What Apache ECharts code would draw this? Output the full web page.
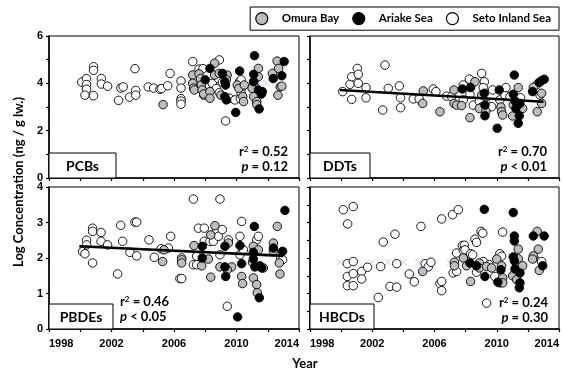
<!DOCTYPE html>
<html>
<head>
<meta charset="utf-8">
<script src="https://cdn.jsdelivr.net/npm/echarts@6/dist/echarts.min.js"></script>
<style>
html,body{margin:0;padding:0;background:#fff;}
#chart{width:564px;height:371px;}
</style>
</head>
<body>
<div id="chart"></div>
<script>
// ---------- data ----------
const seriesNames = ['Omura Bay', 'Ariake Sea', 'Seto Inland Sea'];
const panelNames = ['PCBs', 'DDTs', 'PBDEs', 'HBCDs'];
const r2Values = ['0.52', '0.70', '0.46', '0.24'];
const pValues = ['= 0.12', '< 0.01', '< 0.05', '= 0.30'];
const xTicks = [1998, 2002, 2006, 2010, 2014];

const pcbSeto = [[2000.1,4.05],[2000.4,4.2],[2000.4,3.95],[2000.4,3.75],[2000.3,3.5],[2000.85,4.7],[2000.85,4.55],[2000.85,3.48],[2001.35,4.2],[2001.35,3.97],[2001.75,3.88],[2002.45,3.28],[2002.6,3.8],[2002.75,3.85],[2003.15,3.42],[2003.5,4.62],[2003.55,3.7],[2003.55,3.5],[2004.35,3.85],[2004.7,3.8],[2005.1,3.75],[2005.2,3.78],[2005.6,3.9],[2005.75,4.42],[2006.45,4.1],[2006.45,3.8],[2006.45,3.35],[2006.45,3.25],[2006.45,3.12],[2007.2,4.92],[2007.3,4.1],[2007.6,4.6],[2007.65,3.78],[2007.9,3.5],[2007.85,4.62],[2008.2,3.95],[2008.45,4.0],[2008.9,4.99],[2008.85,4.2],[2008.7,3.78],[2008.9,3.6],[2009.1,4.05],[2009.3,2.41],[2009.55,3.37],[2009.9,3.3],[2010.2,4.07],[2010.3,4.15],[2010.3,3.78],[2010.3,3.57],[2010.25,3.35],[2011.2,3.85],[2011.4,3.65]];
const pcbOmura = [[2005.3,3.1],[2007.2,4.35],[2007.2,4.0],[2007.25,3.8],[2007.3,3.72],[2007.6,4.4],[2007.7,4.2],[2007.75,3.93],[2007.8,3.72],[2007.9,3.55],[2008.3,3.65],[2008.3,3.37],[2008.6,4.35],[2008.6,4.85],[2008.9,4.42],[2009.0,3.5],[2009.4,4.35],[2009.35,4.15],[2010.05,3.93],[2010.15,3.79],[2010.4,3.44],[2010.45,3.23],[2010.5,3.93],[2011.1,4.07],[2011.0,3.79],[2011.1,3.44],[2011.3,3.23],[2011.3,3.1],[2011.4,4.63],[2011.4,4.28],[2012.3,4.42],[2012.6,4.94],[2012.7,4.63],[2012.8,3.85],[2012.65,3.5],[2012.9,3.88]];
const pcbAriake = [[2008.0,4.15],[2008.3,4.63],[2009.1,4.42],[2009.25,4.07],[2009.3,3.93],[2009.25,3.44],[2009.35,3.3],[2009.95,2.77],[2010.2,4.52],[2011.15,5.17],[2011.1,4.38],[2011.1,4.07],[2011.4,3.72],[2011.6,3.55],[2011.45,2.92],[2011.65,3.65],[2012.35,4.2],[2013.05,4.92],[2012.9,4.32]];
const pcbCross = [[2006.9,4.0],[2007.45,4.0],[2011.9,4.0]];

const ddtSeto = [[2000.1,3.65],[2000.57,3.96],[2000.68,4.28],[2000.68,3.32],[2001.04,4.63],[2001.1,4.38],[2001.1,4.0],[2001.6,3.82],[2001.6,3.39],[2002.82,4.77],[2002.67,2.87],[2003.03,3.79],[2003.74,3.89],[2003.82,3.39],[2003.82,2.97],[2004.64,3.34],[2005.02,3.34],[2005.92,3.76],[2006.09,3.65],[2006.78,3.46],[2007.1,3.44],[2007.85,3.93],[2007.85,3.3],[2008.24,4.18],[2008.28,3.54],[2008.49,3.08],[2009.03,4.42],[2009.2,4.07],[2009.13,3.82],[2008.88,3.23],[2009.35,3.11],[2009.03,3.0],[2009.73,3.72],[2009.67,3.01],[2010.2,3.3],[2010.53,3.5],[2010.59,3.82],[2010.85,3.44],[2011.28,3.37],[2011.53,3.39],[2012.78,3.51],[2012.6,3.96]];
const ddtOmura = [[2005.28,3.68],[2005.24,3.15],[2006.35,2.8],[2007.25,3.72],[2007.25,3.15],[2007.42,3.08],[2007.74,3.06],[2008.28,2.55],[2008.6,4.07],[2009.03,3.51],[2008.88,2.94],[2009.3,2.83],[2010.27,3.0],[2010.31,2.8],[2010.38,2.66],[2011.38,3.82],[2011.02,2.62],[2011.06,3.08],[2011.66,2.94],[2012.35,3.83],[2012.6,2.8],[2012.88,3.58],[2012.88,3.15]];
const ddtAriake = [[2007.79,3.76],[2008.32,3.82],[2009.2,3.58],[2009.24,2.63],[2009.24,3.08],[2010.16,3.72],[2010.03,2.1],[2011.13,4.35],[2011.06,3.54],[2011.17,3.25],[2011.23,2.94],[2011.45,2.63],[2011.49,3.15],[2011.38,2.31],[2012.3,3.65],[2012.73,4.04],[2012.88,4.11],[2013.05,4.17]];
const ddtTrend = [[1999.9,3.72],[2013.0,3.22]];

const pbdeSeto = [[2000.15,2.18],[2000.3,2.12],[2000.41,2.5],[2000.41,2.37],[2000.79,2.84],[2000.79,2.75],[2000.79,1.86],[2001.33,2.72],[2001.33,2.47],[2001.75,2.37],[2002.39,1.55],[2002.59,2.92],[2002.71,2.47],[2003.18,2.16],[2003.5,3.01],[2003.61,3.01],[2003.61,2.06],[2004.4,2.51],[2004.74,2.02],[2005.17,2.26],[2005.64,2.28],[2005.79,2.61],[2006.38,1.42],[2006.49,1.42],[2006.49,2.0],[2007.24,3.66],[2007.24,1.81],[2007.45,2.05],[2007.56,2.84],[2007.45,1.81],[2007.94,2.84],[2007.94,2.47],[2008.3,2.47],[2008.52,2.47],[2008.73,2.8],[2008.84,2.61],[2008.94,3.66],[2009.09,2.8],[2008.94,2.09],[2009.48,2.51],[2009.41,0.64],[2010.22,2.61],[2010.33,3.03],[2010.22,2.09],[2010.44,2.23],[2011.29,2.51],[2011.4,2.61],[2012.83,2.0],[2012.95,1.95]];
const pbdeOmura = [[2005.27,1.9],[2005.36,2.23],[2006.49,1.95],[2006.49,1.86],[2007.28,2.35],[2007.77,1.78],[2008.2,1.97],[2008.35,1.46],[2008.35,2.65],[2008.62,2.91],[2008.94,1.75],[2009.48,2.42],[2009.69,1.75],[2009.41,1.67],[2010.33,1.48],[2010.39,1.28],[2011.08,2.33],[2011.03,1.88],[2011.08,1.44],[2011.29,1.25],[2011.33,1.02],[2011.4,2.23],[2011.72,1.72],[2012.36,2.42],[2012.36,2.19],[2012.61,2.89],[2012.74,1.86],[2012.78,1.55]];
const pbdeAriake = [[2007.81,2.33],[2007.81,2.0],[2009.26,2.33],[2009.26,1.75],[2009.31,1.48],[2010.07,0.34],[2010.22,2.35],[2010.33,1.84],[2011.14,2.89],[2011.08,2.16],[2011.08,1.97],[2011.18,1.75],[2011.46,0.88],[2011.5,1.78],[2011.61,1.72],[2012.36,2.28],[2012.95,2.19],[2013.1,3.34]];
const pbdeTrend = [[1999.94,2.33],[2013.0,2.06]];

const hbcdSeto = [[2000.14,3.36],[2000.78,3.45],[2000.42,2.96],[2000.4,1.84],[2000.78,1.9],[2000.4,1.48],[2000.4,1.22],[2000.78,1.22],[2000.78,1.56],[2001.32,1.62],[2001.32,1.41],[2001.7,1.74],[2002.39,0.89],[2002.54,1.76],[2002.71,2.45],[2003.14,1.2],[2003.46,2.67],[2003.57,1.84],[2003.57,1.18],[2004.38,1.55],[2004.7,1.33],[2005.13,2.89],[2005.4,1.84],[2005.6,1.75],[2005.77,1.88],[2006.35,1.28],[2006.46,3.1],[2006.46,1.34],[2006.46,1.08],[2007.16,3.22],[2007.53,3.36],[2007.2,1.58],[2007.42,2.14],[2007.42,1.62],[2007.79,2.35],[2007.92,2.36],[2007.85,2.21],[2007.96,2.23],[2008.17,1.97],[2008.32,2.12],[2008.45,2.09],[2008.6,2.53],[2008.7,2.44],[2008.99,2.75],[2009.1,2.7],[2008.7,1.6],[2009.13,1.9],[2009.35,0.73],[2009.52,1.81],[2009.88,1.48],[2010.2,2.12],[2010.31,2.05],[2010.38,2.73],[2011.28,1.81],[2011.23,1.92],[2012.39,2.0],[2012.88,1.9]];
const hbcdOmura = [[2005.24,1.62],[2007.28,1.88],[2007.28,1.78],[2007.85,2.0],[2008.06,1.78],[2008.32,1.34],[2008.88,1.86],[2008.88,1.72],[2009.35,1.76],[2009.67,1.72],[2010.0,1.97],[2010.2,1.3],[2010.31,1.78],[2010.38,1.44],[2010.38,1.3],[2011.38,2.25],[2011.38,1.98],[2011.02,1.5],[2011.28,1.39],[2011.66,1.78],[2012.6,2.75],[2012.67,2.25],[2012.35,2.06],[2012.3,1.97],[2012.73,1.65]];
const hbcdAriake = [[2008.28,1.86],[2008.7,1.78],[2009.2,3.37],[2009.24,1.48],[2010.07,1.32],[2010.27,1.67],[2011.06,3.28],[2011.13,2.62],[2011.13,2.48],[2011.06,2.03],[2011.13,1.92],[2011.17,1.69],[2011.49,1.58],[2011.49,1.3],[2011.45,1.16],[2012.35,2.62],[2013.05,2.62],[2012.95,1.78]];
const hbcdCross = [[1999.93,1.88],[2000.46,1.88],[2001.96,1.88],[2003.03,1.88],[2004.0,1.88],[2004.96,1.88],[2005.45,1.88],[2006.99,1.88],[2007.4,1.88],[2011.9,1.88],[2012.75,1.88]];

// ---------- layout / style ----------
const grids = [
  {left: 49, top: 36, width: 250, height: 142},
  {left: 310, top: 36, width: 249, height: 142},
  {left: 49, top: 187, width: 250, height: 142},
  {left: 310, top: 187, width: 249, height: 142}
];
const fills = {'Omura Bay': '#bdbdbd', 'Ariake Sea': '#000000', 'Seto Inland Sea': '#ffffff'};
const tickFont = {fontFamily: 'Liberation Sans', fontWeight: 'bold', fontSize: 11, color: '#000'};
const lblFont = 'Lato';

const panelData = [
  {seto: pcbSeto, omura: pcbOmura, ariake: pcbAriake, cross: pcbCross, trend: null},
  {seto: ddtSeto, omura: ddtOmura, ariake: ddtAriake, cross: null, trend: ddtTrend},
  {seto: pbdeSeto, omura: pbdeOmura, ariake: pbdeAriake, cross: null, trend: pbdeTrend},
  {seto: hbcdSeto, omura: hbcdOmura, ariake: hbcdAriake, cross: hbcdCross, trend: null}
];

const xAxes = grids.map((g, i) => ({
  type: 'value', gridIndex: i, min: 1998, max: 2014, interval: 2,
  axisLine: {show: true, lineStyle: {color: '#000', width: 1.5}},
  axisTick: {show: true, inside: false, length: 3, lineStyle: {color: '#000', width: 1.2}},
  splitLine: {show: false},
  axisLabel: {
    show: i >= 2, margin: 9, ...tickFont,
    alignMinLabel: 'left', alignMaxLabel: 'right',
    formatter: v => xTicks.indexOf(v) >= 0 ? String(v) : ''
  }
}));
const yAxes = grids.map((g, i) => ({
  type: 'value', gridIndex: i, min: 0, max: i < 2 ? 6 : 4, interval: i === 3 ? 0.5 : 1,
  axisLine: {show: true, lineStyle: {color: '#000', width: 1.5}},
  axisTick: {show: true, inside: false, length: 3, lineStyle: {color: '#000', width: 1.2}},
  splitLine: {show: false},
  axisLabel: {
    show: i === 0 || i === 2, margin: 6, ...tickFont,
    formatter: v => (i === 0 ? (v % 2 === 0 ? String(v) : '') : String(v))
  }
}));

const crossPath = 'path://M0,1L1,0L5,4L9,0L10,1L6,5L10,9L9,10L5,6L1,10L0,9L4,5Z';
const series = [];
panelData.forEach((p, i) => {
  if (p.cross) {
    series.push({type: 'scatter', xAxisIndex: i, yAxisIndex: i, data: p.cross, symbol: crossPath,
      symbolSize: 7, itemStyle: {color: '#cfcfee'}, silent: true, z: 1});
  }
  [['Seto Inland Sea', p.seto], ['Omura Bay', p.omura], ['Ariake Sea', p.ariake]].forEach(([name, d], k) => {
    series.push({
      type: 'scatter', name: name, xAxisIndex: i, yAxisIndex: i, data: d,
      symbol: 'circle', symbolSize: 8.5,
      itemStyle: {color: fills[name], borderColor: '#000', borderWidth: 0.9, opacity: 1},
      z: 2 + k
    });
  });
  if (p.trend) {
    series.push({type: 'line', xAxisIndex: i, yAxisIndex: i, data: p.trend, symbol: 'none',
      lineStyle: {color: '#000', width: 2.6}, z: 6, silent: true});
  }
});

// ---------- annotations ----------
const boxes = [
  {x: 49, y: 153, w: 67, h: 25},
  {x: 310, y: 153, w: 60, h: 25},
  {x: 49, y: 304, w: 64, h: 25},
  {x: 310, y: 304, w: 64, h: 25}
];
const stats = [
  {x: 288, y: 152, align: 'right'},
  {x: 547, y: 152, align: 'right'},
  {x: 120, y: 302, align: 'left'},
  {x: 548, y: 303, align: 'right'}
];
const graphics = [];
panelNames.forEach((nm, i) => {
  const b = boxes[i];
  graphics.push({type: 'rect', shape: {x: b.x, y: b.y, width: b.w, height: b.h},
    style: {fill: '#fff', stroke: '#000', lineWidth: 1}, z: 50});
  graphics.push({type: 'text', x: b.x + b.w / 2, y: b.y + b.h / 2 + 0.5, z: 51,
    style: {text: nm, fontFamily: lblFont, fontWeight: 'bold', fontSize: 14, fill: '#000',
      align: 'center', verticalAlign: 'middle'}});
  const s = stats[i];
  graphics.push({type: 'text', x: s.x, y: s.y, z: 51,
    style: {text: '{a|r}{s|2}{a| = ' + r2Values[i] + '}', align: s.align, verticalAlign: 'middle',
      rich: {a: {fontFamily: lblFont, fontWeight: 'bold', fontSize: 13, fill: '#000'},
             s: {fontFamily: lblFont, fontWeight: 'bold', fontSize: 8, fill: '#000', verticalAlign: 'top', padding: [0, 0, 6, 0]}}}});
  graphics.push({type: 'text', x: s.x, y: s.y + 15, z: 51,
    style: {text: '{i|p}{a| ' + pValues[i] + '}', align: s.align, verticalAlign: 'middle',
      rich: {a: {fontFamily: lblFont, fontWeight: 'bold', fontSize: 13, fill: '#000'},
             i: {fontFamily: lblFont, fontWeight: 'bold', fontStyle: 'italic', fontSize: 13, fill: '#000'}}}});
});
graphics.push({type: 'text', x: 305, y: 364, z: 51,
  style: {text: 'Year', fontFamily: lblFont, fontWeight: 'bold', fontSize: 13, fill: '#000', align: 'center', verticalAlign: 'middle'}});
graphics.push({type: 'text', x: 19, y: 182, rotation: Math.PI / 2, z: 51,
  style: {text: 'Log Concentration (ng / g lw.)', fontFamily: lblFont, fontWeight: 'bold', fontSize: 13, fill: '#000', align: 'center', verticalAlign: 'middle'}});

const chart = echarts.init(document.getElementById('chart'), null, {renderer: 'canvas'});
chart.setOption({
  animation: false,
  backgroundColor: '#fff',
  grid: grids.map(g => ({...g, show: true, borderColor: '#000', borderWidth: 1, backgroundColor: 'transparent'})),
  xAxis: xAxes,
  yAxis: yAxes,
  legend: {
    data: seriesNames.map(n => ({name: n, itemStyle: {color: fills[n], borderColor: '#000', borderWidth: 1.2}})),
    right: 5, top: 7, icon: 'circle', itemWidth: 12, itemHeight: 12, itemGap: 13,
    padding: [5, 8, 5, 5], borderColor: '#000', borderWidth: 1, selectedMode: false,
    textStyle: {fontFamily: lblFont, fontWeight: 'bold', fontSize: 11.5, color: '#000', padding: [0, 0, 0, 9]}
  },
  series: series,
  graphic: graphics
});
</script>
</body>
</html>
